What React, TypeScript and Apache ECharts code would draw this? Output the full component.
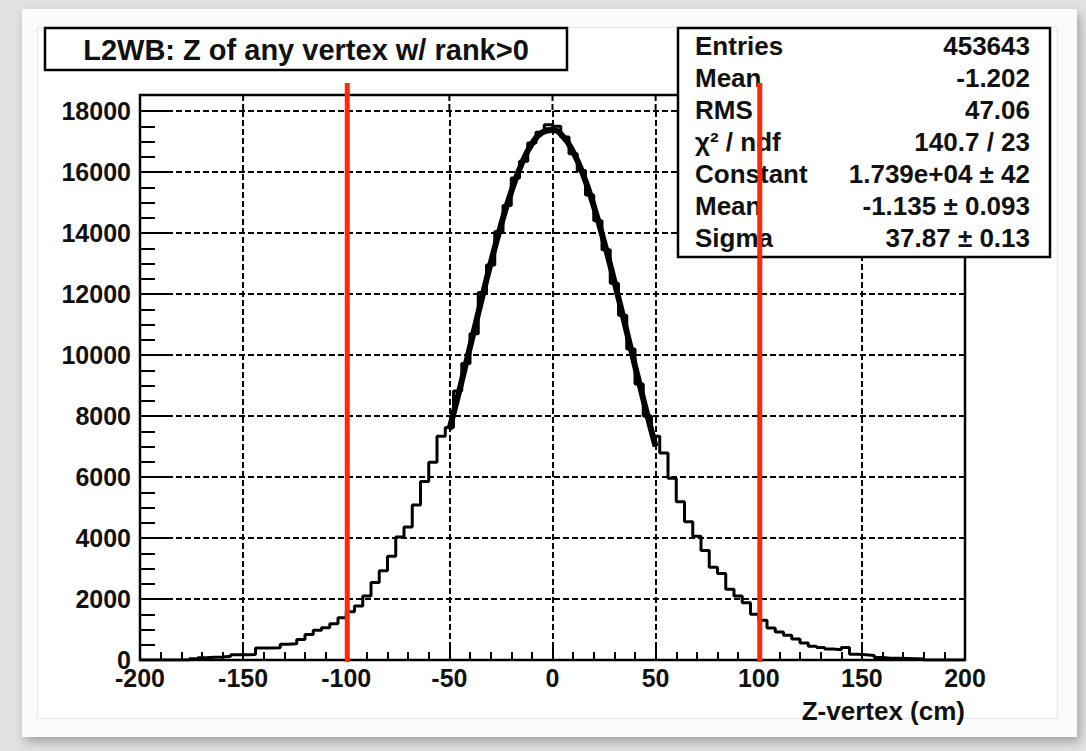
import React, { useEffect, useRef } from "react";
import * as echarts from "echarts";

// Histogram: 100 bins of 4 cm from -200 to 200
const binLow = -200;
const binHigh = 200;
const binWidth = 4;
const histValues = [
  0, 0, 0, 0, 0, 0, 40, 70, 90, 100,
  120, 170, 175, 180, 390, 390, 400, 520, 530, 670,
  835, 975, 1055, 1185, 1385, 1580, 1770, 2100, 2540, 2930,
  3400, 4030, 4360, 5080, 5850, 6480, 7340, 7620, 8820, 9720,
  10700, 12050, 12950, 14050, 14900, 15800, 16350, 16950, 17300, 17550,
  17500, 17150, 16600, 16050, 15250, 14400, 13450, 12350, 11300, 10200,
  9050, 8000, 7340, 6790, 5960, 5190, 4530, 4055, 3590, 3040,
  2840, 2320, 2100, 1880, 1500, 1300, 1050, 920, 810, 690,
  560, 450, 410, 360, 340, 410, 190, 170, 150, 80,
  60, 60, 50, 40, 30, 0, 0, 0, 0, 0,
];

// Fitted gaussian curve
const fitX = [-50, -45, -40, -35, -30, -25, -20, -15, -10, -5, 0, 5, 10, 15, 20, 25, 30, 35, 40, 45, 50];
const fitY = [7560, 8880, 10260, 11650, 13000, 14250, 15350, 16260, 16920, 17300, 17380, 17170, 16660, 15890, 14890, 13710, 12410, 11040, 9650, 8290, 7000];

const xGridTicks = [-150, -100, -50, 0, 50, 100, 150];

const statsLabels = ["Entries", "Mean", "RMS", "χ² / ndf", "Constant", "Mean", "Sigma"];
const statsValues = ["453643", "-1.202", "47.06", "140.7 / 23", "1.739e+04 ± 42", "-1.135 ± 0.093", "37.87 ± 0.13"];

const titleText = "L2WB: Z of any vertex w/ rank>0";
const xAxisName = "Z-vertex (cm)";
const cutLines = [-100, 100];

const FONT = "'Liberation Sans', Arial, Helvetica, sans-serif";
const INK = "#111";

export default function App() {
  const ref = useRef<HTMLDivElement>(null);

  useEffect(() => {
    document.body.style.margin = "0";
    const chart = echarts.init(ref.current!, null, { renderer: "svg" });

    const histData: number[][] = histValues.map((v, i) => [binLow + i * binWidth, v]);
    histData.push([binHigh, histValues[histValues.length - 1]]);
    const fitData = fitX.map((x, i) => [x, fitY[i]]);

    const gridLine = { show: true, lineStyle: { color: "#000", width: 2, type: [6, 3] } };

    chart.setOption({
      animation: false,
      backgroundColor: "transparent",
      grid: { left: 140, right: 121, top: 111, bottom: 91, show: false },
      xAxis: {
        type: "value",
        min: -200,
        max: 200,
        interval: 50,
        axisLine: { show: true, onZero: false, lineStyle: { color: "#000", width: 2 } },
        axisTick: { show: true, inside: true, length: 16, lineStyle: { color: "#000", width: 2 } },
        minorTick: { show: true, splitNumber: 5, length: 8, lineStyle: { color: "#000", width: 2 } },
        axisLabel: { fontFamily: FONT, fontWeight: "bold", fontSize: 25, color: INK, margin: 5, formatter: (v: number) => String(v) },
        splitLine: gridLine,
      },
      yAxis: {
        type: "value",
        min: 0,
        max: 18000,
        interval: 2000,
        axisLine: { show: true, onZero: false, lineStyle: { color: "#000", width: 2 } },
        axisTick: { show: true, inside: true, length: 27, lineStyle: { color: "#000", width: 2 } },
        minorTick: { show: true, splitNumber: 4, length: 15, lineStyle: { color: "#000", width: 2 } },
        axisLabel: { fontFamily: FONT, fontWeight: "bold", fontSize: 25, color: INK, margin: 9, formatter: (v: number) => String(v) },
        splitLine: gridLine,
      },
      series: [
        {
          type: "line",
          step: "end",
          data: histData,
          showSymbol: false,
          lineStyle: { color: "#000", width: 3 },
          z: 3,
        },
        {
          type: "line",
          smooth: true,
          data: fitData,
          showSymbol: false,
          lineStyle: { color: "#000", width: 6 },
          z: 4,
        },
      ],
    });

    const pLL = chart.convertToPixel({ gridIndex: 0 }, [binLow, 0]) as number[];
    const pUR = chart.convertToPixel({ gridIndex: 0 }, [binHigh, 18000]) as number[];
    const frameTop = pUR[1] - 16;

    const graphics: any[] = [];
    // vertical grid lines continue up to the frame top
    xGridTicks.forEach((t) => {
      const px = (chart.convertToPixel({ gridIndex: 0 }, [t, 18000]) as number[])[0];
      graphics.push({
        type: "line",
        shape: { x1: px, y1: frameTop, x2: px, y2: pUR[1] },
        style: { stroke: "#000", lineWidth: 2, lineDash: [6, 3] },
        z: 1,
      });
    });
    graphics.push({
      type: "rect",
      shape: { x: pLL[0], y: frameTop, width: pUR[0] - pLL[0], height: pLL[1] - frameTop },
      style: { fill: "none", stroke: "#000", lineWidth: 2.5 },
      z: 50,
    });
    // title box
    graphics.push({
      type: "rect",
      shape: { x: 45, y: 28, width: 522, height: 42 },
      style: { fill: "#fff", stroke: "#000", lineWidth: 2.5 },
      z: 60,
    });
    graphics.push({
      type: "text",
      x: 306,
      y: 50,
      style: { text: titleText, fontFamily: FONT, fontWeight: "bold", fontSize: 29, fill: INK, align: "center", verticalAlign: "middle" },
      z: 61,
    });
    // stats box
    graphics.push({
      type: "rect",
      shape: { x: 678, y: 28, width: 372, height: 229 },
      style: { fill: "#fff", stroke: "#000", lineWidth: 2.5 },
      z: 60,
    });
    statsLabels.forEach((lab, i) => {
      const yy = 46 + i * 32;
      graphics.push({
        type: "text",
        x: 695,
        y: yy,
        style: { text: lab, fontFamily: FONT, fontWeight: "bold", fontSize: 26, fill: INK, align: "left", verticalAlign: "middle" },
        z: 61,
      });
      graphics.push({
        type: "text",
        x: 1030,
        y: yy,
        style: { text: statsValues[i], fontFamily: FONT, fontWeight: "bold", fontSize: 26, fill: INK, align: "right", verticalAlign: "middle" },
        z: 61,
      });
    });
    // x axis name
    graphics.push({
      type: "text",
      x: pUR[0],
      y: 711,
      style: { text: xAxisName, fontFamily: FONT, fontWeight: "bold", fontSize: 26, fill: INK, align: "right", verticalAlign: "middle" },
      z: 61,
    });
    // red cut lines
    cutLines.forEach((c) => {
      const px = (chart.convertToPixel({ gridIndex: 0 }, [c, 0]) as number[])[0];
      graphics.push({
        type: "line",
        shape: { x1: px + 1, y1: 83, x2: px + 1, y2: pLL[1] + 2 },
        style: { stroke: "#ff2a05", lineWidth: 5 },
        z: 100,
      });
    });

    chart.setOption({ graphic: graphics });

    return () => chart.dispose();
  }, []);

  return (
    <div style={{ position: "relative", width: 1086, height: 751, background: "#e2e2e2", overflow: "hidden" }}>
      <div
        style={{
          position: "absolute",
          left: 22,
          top: 9,
          width: 1055,
          height: 728,
          background: "#fbfbfb",
          boxShadow: "3px 5px 10px rgba(0,0,0,0.28)",
        }}
      />
      <div
        style={{
          position: "absolute",
          left: 37,
          top: 27,
          width: 1021,
          height: 692,
          background: "#fff",
          border: "1px solid #e8e8e8",
          boxSizing: "border-box",
        }}
      />
      <div ref={ref} style={{ position: "absolute", left: 0, top: 0, width: 1086, height: 751 }} />
    </div>
  );
}
